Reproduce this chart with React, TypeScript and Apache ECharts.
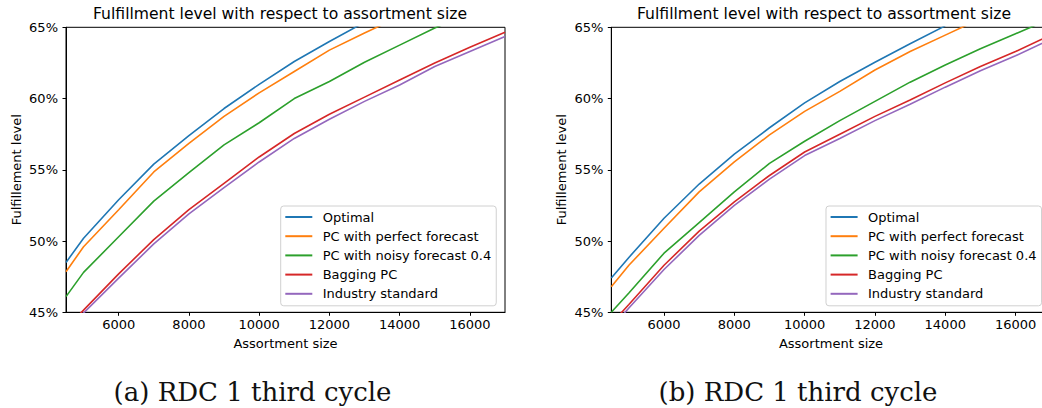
import React, { useEffect, useRef } from "react";
import * as echarts from "echarts";

const sizes = [4500, 5000, 6000, 7000, 8000, 9000, 10000, 11000, 12000, 13000, 14000, 15000, 16000, 17000];
const xTicks = [6000, 8000, 10000, 12000, 14000, 16000];
const seriesNames = ["Optimal", "PC with perfect forecast", "PC with noisy forecast 0.4", "Bagging PC", "Industry standard"];
const colors = ["#1f77b4", "#ff7f0e", "#2ca02c", "#d62728", "#9467bd"];

// (a) RDC 1 third cycle
const optimalA = [48.5, 50.2, 52.9, 55.4, 57.4, 59.3, 61.0, 62.6, 64.0, 65.35];
const perfectA = [47.85, 49.6, 52.2, 54.85, 56.85, 58.75, 60.4, 61.9, 63.4, 64.6, 65.75];
const noisyA = [46.1, 47.8, 50.3, 52.8, 54.8, 56.75, 58.3, 60.0, 61.2, 62.55, 63.75, 64.95, 66.0];
const baggingA = [43.9, 45.15, 47.7, 50.1, 52.2, 54.05, 55.9, 57.55, 58.9, 60.1, 61.3, 62.5, 63.6, 64.65];
const industryA = [43.7, 44.95, 47.4, 49.8, 51.9, 53.75, 55.55, 57.2, 58.55, 59.8, 60.95, 62.25, 63.3, 64.35];

// (b) RDC 1 third cycle
const optimalB = [47.4, 48.85, 51.6, 54.0, 56.1, 57.95, 59.7, 61.2, 62.55, 63.85, 65.1];
const perfectB = [46.8, 48.3, 50.9, 53.45, 55.55, 57.45, 59.1, 60.5, 62.0, 63.3, 64.45, 65.6];
const noisyB = [45.0, 46.35, 49.15, 51.3, 53.45, 55.45, 57.0, 58.45, 59.8, 61.15, 62.35, 63.5, 64.55, 65.6];
const baggingB = [44.2, 45.55, 48.3, 50.7, 52.75, 54.6, 56.25, 57.5, 58.75, 59.9, 61.1, 62.25, 63.3, 64.45];
const industryB = [43.9, 45.3, 48.0, 50.4, 52.5, 54.35, 56.0, 57.2, 58.45, 59.6, 60.8, 61.95, 63.0, 64.15];

const chartTitle = "Fulfillment level with respect to assortment size";
const xName = "Assortment size";
const yName = "Fulfillement level";
const captionA = "(a) RDC 1 third cycle";
const captionB = "(b) RDC 1 third cycle";

const FONT = "DejaVu Sans";

function pairs(vals: number[]) {
  return vals.map((v, i) => [sizes[i], v]);
}

function makeAxes(gridIndex: number) {
  const x = {
    type: "value",
    gridIndex,
    min: 4500,
    max: 17000,
    splitLine: { show: false },
    axisLine: { show: true, onZero: false, lineStyle: { color: "#000", width: 1 } },
    axisTick: { show: true, customValues: xTicks, length: 3.5, lineStyle: { color: "#000", width: 1 } },
    axisLabel: { customValues: xTicks, formatter: (v: number) => String(v), margin: 6, fontSize: 13, color: "#000", fontFamily: FONT },
    name: xName,
    nameLocation: "middle",
    nameGap: 25,
    nameTextStyle: { fontSize: 13, color: "#000", fontFamily: FONT },
  };
  const y = {
    type: "value",
    gridIndex,
    min: 45,
    max: 65,
    interval: 5,
    splitLine: { show: false },
    axisLine: { show: true, onZero: false, lineStyle: { color: "#000", width: 1 } },
    axisTick: { show: true, length: 3.5, lineStyle: { color: "#000", width: 1 } },
    axisLabel: { formatter: "{value}%", margin: 8, fontSize: 13, color: "#000", fontFamily: FONT },
    name: yName,
    nameLocation: "middle",
    nameGap: 43,
    nameTextStyle: { fontSize: 13, color: "#000", fontFamily: FONT },
  };
  return { x, y };
}

function makeSeries(idx: number, data: number[][]) {
  return data.map((vals, k) => ({
    name: seriesNames[k],
    type: "line",
    xAxisIndex: idx,
    yAxisIndex: idx,
    data: pairs(vals as number[]),
    symbol: "none",
    showSymbol: false,
    clip: true,
    color: colors[k],
    lineStyle: { width: 1.6, color: colors[k] },
  }));
}

function makeLegend(left: number) {
  return {
    data: seriesNames,
    orient: "vertical",
    left,
    top: 206,
    icon: "rect",
    itemWidth: 27,
    itemHeight: 2,
    itemGap: 4.2,
    selectedMode: false,
    backgroundColor: "rgba(255,255,255,0.8)",
    borderColor: "#d0d0d0",
    borderWidth: 1,
    borderRadius: 3,
    padding: [3.5, 5, 4.5, 4.6],
    textStyle: { fontSize: 13, lineHeight: 15, color: "#000", fontFamily: FONT, padding: [0, 0, 0, 5.4] },
  };
}

export default function App() {
  const ref = useRef<HTMLDivElement>(null);
  useEffect(() => {
    if (!ref.current) return;
    const chart = echarts.init(ref.current, null, { renderer: "svg" });
    const a = makeAxes(0);
    const b = makeAxes(1);
    const titleStyle = { font: `15.6px '${FONT}'`, fill: "#000", align: "center", verticalAlign: "middle", textAlign: "center", textVerticalAlign: "middle" };
    const capStyle = { font: "26px 'DejaVu Serif'", fill: "#111", align: "center", verticalAlign: "middle", textAlign: "center", textVerticalAlign: "middle" };
    chart.setOption({
      animation: false,
      backgroundColor: "#fff",
      grid: [
        { left: 66, top: 27.3, width: 439, height: 285, show: true, borderColor: "#000", borderWidth: 1, backgroundColor: "transparent" },
        { left: 611.3, top: 27.3, width: 439.4, height: 285, show: true, borderColor: "#000", borderWidth: 1, backgroundColor: "transparent" },
      ],
      xAxis: [a.x, b.x],
      yAxis: [a.y, b.y],
      legend: [makeLegend(280.7), makeLegend(826)],
      series: [
        ...makeSeries(0, [optimalA, perfectA, noisyA, baggingA, industryA]),
        ...makeSeries(1, [optimalB, perfectB, noisyB, baggingB, industryB]),
      ],
      graphic: [
        { type: "text", x: 280, y: 14, style: { text: chartTitle, ...titleStyle } },
        { type: "text", x: 824, y: 14, style: { text: chartTitle, ...titleStyle } },
        { type: "text", x: 252.5, y: 392, style: { text: captionA, ...capStyle } },
        { type: "text", x: 798, y: 392, style: { text: captionB, ...capStyle } },
      ],
    });
    return () => chart.dispose();
  }, []);
  return (
    <div style={{ position: "absolute", left: 0, top: 0, width: 1042, height: 408, overflow: "hidden", background: "#fff" }}>
      <div ref={ref} style={{ width: 1062, height: 408 }} />
    </div>
  );
}
